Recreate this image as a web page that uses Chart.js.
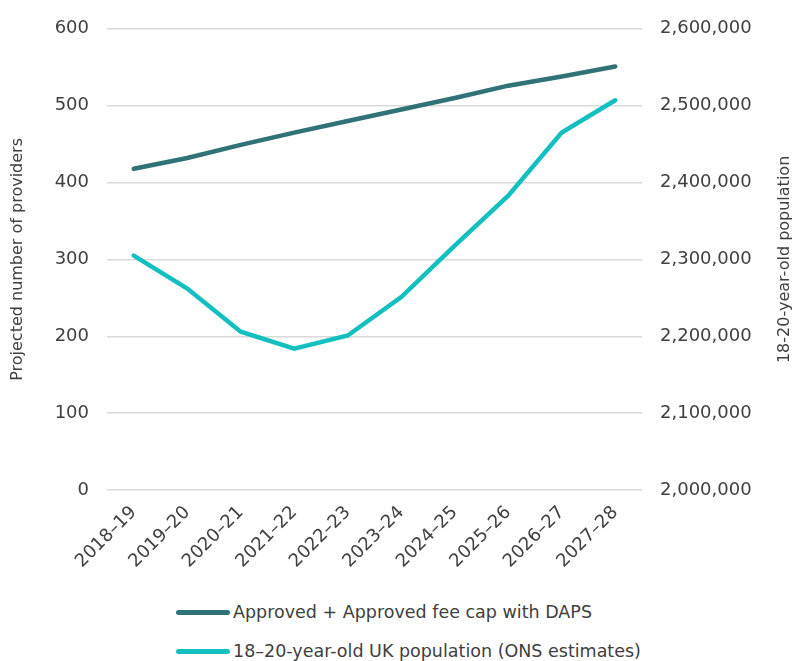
<!DOCTYPE html>
<html>
<head>
<meta charset="utf-8">
<script src="https://cdn.jsdelivr.net/npm/chart.js@4"></script>
<style>
    body { margin: 0; background: #fff; font-family: "DejaVu Sans", sans-serif; }
    #wrap { position: relative; width: 793px; height: 590px; }
    #legend { position: relative; width: 793px; height: 71px; }
    .legend-row { position: absolute; left: 176px; display: flex; align-items: center; color: #404040; font-size: 17.5px; white-space: nowrap; }
    .legend-line { width: 54px; height: 5px; border-radius: 3px; margin-right: 3px; }
</style>
</head>
<body>
<div id="wrap"><canvas id="chart"></canvas></div>
<div id="legend"></div>
<script>
const years = ['2018–19', '2019–20', '2020–21', '2021–22', '2022–23', '2023–24', '2024–25', '2025–26', '2026–27', '2027–28'];
const providers = [418, 432, 449, 465, 480, 495, 510, 526, 538, 551];
const population = [2305000, 2262000, 2206000, 2184000, 2201000, 2251000, 2318000, 2383000, 2465000, 2507000];
const seriesNames = ['Approved + Approved fee cap with DAPS', '18–20-year-old UK population (ONS estimates)'];
const seriesColors = ['#307275', '#14bfbf'];

const textColor = '#404040';
const tickFont = { family: 'DejaVu Sans', size: 18 };

// right axis title reads bottom-to-top, so draw it ourselves
const rightTitle = {
    id: 'rightTitle',
    afterDraw(chart) {
        const ctx = chart.ctx;
        ctx.save();
        ctx.fillStyle = textColor;
        ctx.font = '16px "DejaVu Sans"';
        ctx.textAlign = 'center';
        ctx.textBaseline = 'middle';
        ctx.translate(785, (chart.chartArea.top + chart.chartArea.bottom) / 2);
        ctx.rotate(-Math.PI / 2);
        ctx.fillText('18-20-year-old population', 0, 0);
        ctx.restore();
    }
};

const chart = new Chart(document.getElementById('chart'), {
    type: 'line',
    data: {
        labels: years,
        datasets: [
            {
                label: seriesNames[0],
                data: providers,
                yAxisID: 'y',
                borderColor: seriesColors[0],
                backgroundColor: seriesColors[0],
                borderWidth: 4.5,
                pointRadius: 0,
                tension: 0,
                borderCapStyle: 'round'
            },
            {
                label: seriesNames[1],
                data: population,
                yAxisID: 'y2',
                borderColor: seriesColors[1],
                backgroundColor: seriesColors[1],
                borderWidth: 4.5,
                pointRadius: 0,
                tension: 0,
                borderCapStyle: 'round'
            }
        ]
    },
    options: {
        responsive: true,
        maintainAspectRatio: false,
        animation: false,
        layout: { padding: { top: 18, left: 0, right: 0, bottom: 0 } },
        plugins: {
            legend: { display: false },
            tooltip: { enabled: false }
        },
        scales: {
            x: {
                offset: true,
                grid: { display: false },
                border: { display: false },
                ticks: {
                    color: textColor,
                    font: tickFont,
                    minRotation: 45,
                    maxRotation: 45,
                    padding: 4
                },
                afterFit(scale) { scale.height = 100; }
            },
            y: {
                position: 'left',
                min: 0,
                max: 600,
                grid: { color: '#d9d9d9', lineWidth: 1.5, drawTicks: false },
                border: { display: false },
                ticks: { stepSize: 100, color: textColor, font: tickFont, padding: 18 },
                title: {
                    display: true,
                    text: 'Projected number of providers',
                    color: textColor,
                    font: { family: 'DejaVu Sans', size: 16 },
                    padding: { top: 8, bottom: 0 }
                },
                afterFit(scale) { scale.width = 107; }
            },
            y2: {
                position: 'right',
                min: 2000000,
                max: 2600000,
                grid: { display: false, drawTicks: false },
                border: { display: false },
                ticks: {
                    stepSize: 100000,
                    color: textColor,
                    font: tickFont,
                    padding: 18,
                    callback: v => v.toLocaleString('en-GB')
                },
                afterFit(scale) { scale.width = 151; }
            }
        }
    },
    plugins: [rightTitle]
});

// legend, two rows, built from the datasets
const legend = document.getElementById('legend');
chart.data.datasets.forEach((ds, i) => {
    const row = document.createElement('div');
    row.className = 'legend-row';
    row.style.top = (i === 0 ? 12 : 51) + 'px';
    row.innerHTML = `<span class="legend-line" style="background:${ds.borderColor}"></span><span>${ds.label}</span>`;
    legend.appendChild(row);
});
</script>
</body>
</html>
